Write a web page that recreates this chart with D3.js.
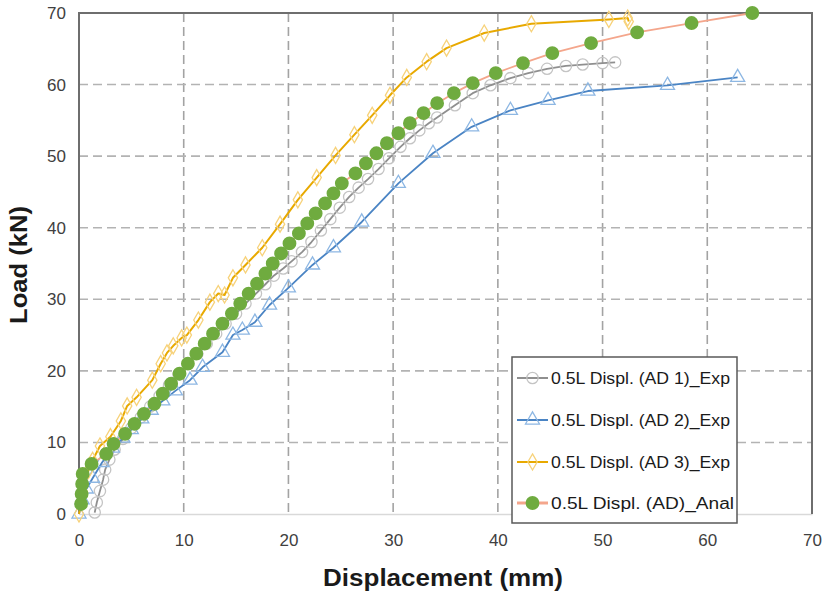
<!DOCTYPE html>
<html><head><meta charset="utf-8">
<script src="https://cdn.jsdelivr.net/npm/d3@7"></script>
<style>body{margin:0;background:#fff}svg{display:block}</style>
</head><body><div id="chart"></div>
<script>
// Data
const seriesNames = ["0.5L Displ. (AD 1)_Exp","0.5L Displ. (AD 2)_Exp","0.5L Displ. (AD 3)_Exp","0.5L Displ. (AD)_Anal"];
const xTicks = [0,10,20,30,40,50,60,70];
const yTicks = [0,10,20,30,40,50,60,70];

const ad1X = [1.5,1.7,2.0,2.3,2.5,2.9,3.4,4.2,5.0,5.9,6.8,7.7,8.6,9.5,10.4,11.3,12.2,13.1,14.0,15.0,15.9,16.9,17.8,18.6,19.5,20.3,21.3,22.2,23.1,24.0,24.9,25.8,26.7,27.6,28.6,29.6,30.7,31.6,32.5,33.4,34.2,35.9,37.6,39.3,41.2,42.9,44.7,46.5,48.1,50.0,51.2];
const ad1Y = [0.2,1.6,3.2,4.8,6.2,7.6,9.0,10.5,12.0,13.5,15.0,16.5,18.0,19.5,21.0,22.4,23.8,25.2,26.6,28.0,29.4,30.8,32.1,33.3,34.3,35.3,36.6,38.0,39.6,41.2,42.8,44.3,45.6,46.8,48.2,49.7,51.3,52.5,53.6,54.6,55.4,57.1,58.8,59.9,60.9,61.6,62.2,62.6,62.8,63.0,63.1];

const ad2X = [0,0.3,0.7,1.3,2.2,3.2,4.2,5.0,6.0,6.9,8.0,9.2,10.6,11.8,13.7,14.7,15.6,16.8,18.2,20.0,22.3,24.3,27.0,30.5,33.8,37.5,41.2,44.8,48.6,56.2,62.9];
const ad2Y = [0,2.0,3.5,5.0,7.2,9.2,10.6,11.8,13.3,14.5,15.8,17.2,18.7,20.5,22.6,25.0,25.7,26.8,29.2,31.6,34.8,37.2,40.8,46.2,50.4,54.1,56.4,57.8,59.1,59.9,61.0];

const ad3X = [0,0.4,0.9,1.3,2.0,3.0,4.0,4.6,5.5,7.0,7.8,8.4,9.0,9.8,10.3,11.4,12.5,13.3,13.9,14.7,15.9,17.5,19.2,20.9,22.7,24.5,26.3,28.0,29.7,31.3,33.2,35.1,38.7,43.2,50.6,52.4,52.5];
const ad3Y = [0,3.0,6.1,7.5,9.5,10.8,13.0,15.1,16.3,18.7,21.0,22.5,23.5,24.6,25.0,27.1,29.6,30.8,30.6,33.0,34.8,37.2,40.5,43.9,47.0,50.1,53.0,55.7,58.5,61.0,63.2,65.1,67.2,68.5,69.1,69.3,68.8];

const analX = [0.2,0.25,0.3,0.35,1.2,2.6,3.3,4.4,5.3,6.2,7.2,8.0,8.8,9.6,10.4,11.2,12.0,12.8,13.7,14.6,15.4,16.2,17.0,17.8,18.5,19.3,20.1,21.0,21.8,22.6,23.5,24.3,25.1,26.4,27.4,28.4,29.4,30.5,31.6,32.9,34.2,35.8,37.6,39.8,42.4,45.2,48.9,53.3,58.5,64.3];
const analY = [1.4,2.8,4.2,5.6,7.0,8.4,9.8,11.2,12.6,14.0,15.4,16.8,18.2,19.6,21.0,22.4,23.8,25.2,26.6,28.0,29.4,30.8,32.2,33.6,35.0,36.4,37.8,39.2,40.6,42.0,43.4,44.8,46.2,47.6,49.0,50.4,51.8,53.2,54.6,56.0,57.4,58.8,60.2,61.6,63.0,64.4,65.8,67.3,68.6,70.0];

const W = 827, H = 596;
const svg = d3.select("#chart").append("svg").attr("width", W).attr("height", H);
const x = d3.scaleLinear().domain([0,70]).range([79,812]);
const y = d3.scaleLinear().domain([0,70]).range([514,13]);

const font = "'Liberation Sans', Arial, sans-serif";

// Gridlines
const grid = svg.append("g");
grid.selectAll("line.v").data(xTicks.slice(1,-1)).join("line")
  .attr("x1", d=>x(d)).attr("x2", d=>x(d)).attr("y1", y(70)).attr("y2", y(0))
  .attr("stroke","#a3a3a3").attr("stroke-width",1.6).attr("stroke-dasharray","9,5");
grid.selectAll("line.h").data(yTicks.slice(1,-1)).join("line")
  .attr("x1", x(0)).attr("x2", x(70)).attr("y1", d=>y(d)).attr("y2", d=>y(d))
  .attr("stroke","#b3b3b3").attr("stroke-width",1.6).attr("stroke-dasharray","9,5");

// Bottom axis (light)
const xAxis = d3.axisBottom(x).tickValues(xTicks).tickSize(0).tickPadding(20);
const gx = svg.append("g").attr("transform",`translate(0,${y(0)})`).call(xAxis);
gx.select(".domain").attr("stroke","#d9d9d9").attr("stroke-width",1.5);
gx.selectAll("text").attr("font-family",font).attr("font-size",17).attr("fill","#404040");

const yAxis = d3.axisLeft(y).tickValues(yTicks).tickSize(0).tickPadding(13);
const gy = svg.append("g").attr("transform",`translate(${x(0)},0)`).call(yAxis);
gy.select(".domain").remove();
gy.selectAll("text").attr("font-family",font).attr("font-size",17).attr("fill","#404040");

// Frame: left, top, right
svg.append("path")
  .attr("d", `M${x(0)},${y(0)}V${y(70)}H${x(70)}V${y(0)}`)
  .attr("fill","none").attr("stroke","#6e6e6e").attr("stroke-width",2);

// Axis titles
svg.append("text").attr("x", 443).attr("y", 586).attr("text-anchor","middle")
  .attr("font-family",font).attr("font-weight","bold").attr("font-size",23).attr("fill","#1a1a1a")
  .attr("textLength",240).attr("lengthAdjust","spacingAndGlyphs")
  .text("Displacement (mm)");
svg.append("text").attr("transform","translate(27,265) rotate(-90)").attr("text-anchor","middle")
  .attr("font-family",font).attr("font-weight","bold").attr("font-size",23).attr("fill","#1a1a1a")
  .attr("textLength",118).attr("lengthAdjust","spacingAndGlyphs")
  .text("Load (kN)");

const line = d3.line().x(d=>x(d[0])).y(d=>y(d[1]));
const zip = (a,b)=>a.map((v,i)=>[v,b[i]]);

const styles = [
  {data: zip(ad1X, ad1Y), color:"#8f8f8f", lw:1.8, marker:"circle", mstroke:"#c4c4c4"},
  {data: zip(ad2X, ad2Y), color:"#4a84c4", lw:1.8, marker:"triangle", mstroke:"#8db7e3"},
  {data: zip(ad3X, ad3Y), color:"#e8a900", lw:2, marker:"diamond", mstroke:"#f7d27a"},
  {data: zip(analX, analY), color:"#f4a68c", lw:1.8, marker:"dot", mstroke:"#6fab3f"}
];
const sym = {
  circle: d3.symbol().type(d3.symbolCircle).size(100),
  triangle: d3.symbol().type(d3.symbolTriangle).size(85),
  diamond: d3.symbol().type(d3.symbolDiamond).size(75),
  dot: d3.symbol().type(d3.symbolCircle).size(150)
};
function drawMarker(g, s, px, py){
  const p = g.append("path").attr("d", sym[s.marker]()).attr("transform",`translate(${px},${py})`);
  if (s.marker === "dot") p.attr("fill","#6fab3f").attr("stroke","none");
  else p.attr("fill","none").attr("stroke", s.mstroke).attr("stroke-width",1.3);
}

styles.forEach(s=>{
  const g = svg.append("g");
  g.append("path").datum(s.data).attr("d", line).attr("fill","none")
    .attr("stroke", s.color).attr("stroke-width", s.lw).attr("stroke-linejoin","round");
  s.data.forEach(d=>drawMarker(g, s, x(d[0]), y(d[1])));
});

// Legend
const lg = svg.append("g");
lg.append("rect").attr("x",512).attr("y",357).attr("width",225).attr("height",166)
  .attr("fill","#fff").attr("stroke","#595959").attr("stroke-width",1.5);
const legY = [378,420,462,503];
styles.forEach((s,i)=>{
  lg.append("line").attr("x1",517).attr("x2",548).attr("y1",legY[i]).attr("y2",legY[i])
    .attr("stroke", s.color).attr("stroke-width", s.marker==="dot"?3:2);
  drawMarker(lg, s, 532.5, legY[i]);
  lg.append("text").attr("x",551).attr("y",legY[i]).attr("dy","0.35em")
    .attr("font-family",font).attr("font-size",16).attr("fill","#1a1a1a")
    .attr("textLength", i===3?183:179).attr("lengthAdjust","spacingAndGlyphs")
    .text(seriesNames[i]);
});
</script></body></html>
